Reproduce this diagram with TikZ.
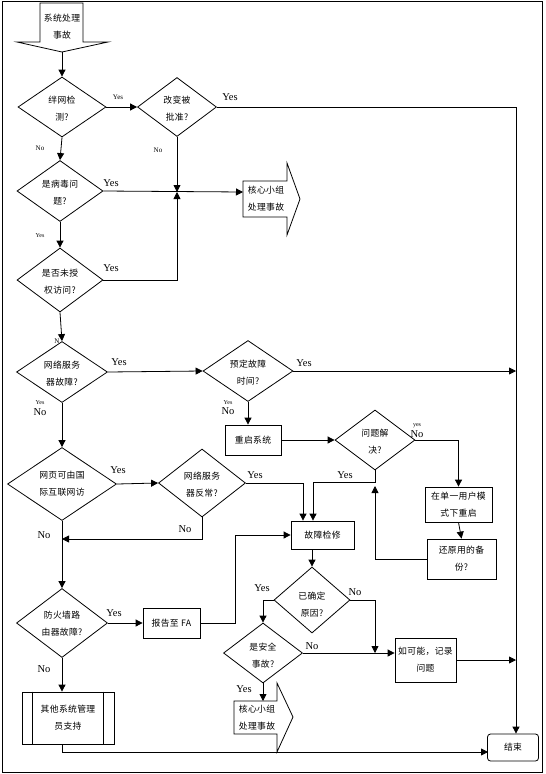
\documentclass[tikz,border=0pt]{standalone}
\usepackage{fontspec}
\setmainfont{Liberation Serif}
\newfontfamily\cjk[LetterSpace=4]{Noto Sans CJK SC}
\usetikzlibrary{shapes.geometric,arrows.meta}
\begin{document}
\begin{tikzpicture}[x=1pt,y=-1pt,line width=0.8pt,
  arr/.style={-{Triangle[length=7pt,width=7pt]}},
  dia/.style={draw,diamond,inner sep=0pt,aspect=1},
  box/.style={draw,rectangle,inner sep=0pt,align=center,font=\cjk\fontsize{8.8}{17}\selectfont},
  txt/.style={font=\cjk\fontsize{8.8}{17}\selectfont,align=center,inner sep=0pt},
  lab/.style={font=\fontsize{10.5}{12}\selectfont,inner sep=0pt},
  tlab/.style={font=\fontsize{7}{8}\selectfont,inner sep=0pt},
  slab/.style={font=\fontsize{6}{7}\selectfont,inner sep=0pt}]
\useasboundingbox (0,0) rectangle (546,774);
\draw[line width=1pt] (2,1) rectangle (542,772);

% start block arrow
\draw (40,3) -- (83,3) -- (83,42) -- (108,42) -- (62,52) -- (17,42) -- (40,42) -- cycle;
\node[txt] (st) at (62,27) {系统处理\\事故};
\coordinate (sttip) at (62,52);

% core group block arrows
\draw (243,181) -- (287,181) -- (287,163) -- (300,199) -- (287,235) -- (287,217) -- (243,217) -- cycle;
\node[txt] (c1t) at (266,199) {核心小组\\处理事故};
\coordinate (c1in) at (243,192);
\draw (234,701) -- (277,701) -- (277,683) -- (293,717) -- (277,752) -- (277,734) -- (234,734) -- cycle;
\node[txt] (c2t) at (257,718) {核心小组\\处理事故};
\coordinate (c2in) at (263,701);

% diamonds
\node[dia,minimum width=88pt,minimum height=60pt] (d1) at (62,107) {};
\node[txt] (d1t) at (62,109) {绊网检\\测?};
\node[dia,minimum width=79pt,minimum height=59pt] (d2) at (177,107) {};
\node[txt] (d2t) at (177,109) {改变被\\批准?};
\node[dia,minimum width=86pt,minimum height=61pt] (d3) at (60,191) {};
\node[txt] (d3t) at (60,193) {是病毒问\\题?};
\node[dia,minimum width=86pt,minimum height=64pt] (d4) at (60,280) {};
\node[txt] (d4t) at (60,282) {是否未授\\权访问?};
\node[dia,minimum width=91pt,minimum height=61pt] (d5) at (62,372) {};
\node[txt] (d5t) at (62,374) {网络服务\\器故障?};
\node[dia,minimum width=90pt,minimum height=61pt] (d6) at (248,371) {};
\node[txt] (d6t) at (248,373) {预定故障\\时间?};
\node[dia,minimum width=80pt,minimum height=60pt] (d7) at (375,440) {};
\node[txt] (d7t) at (375,442) {问题解\\决?};
\node[dia,minimum width=109pt,minimum height=73pt] (d8) at (62,484) {};
\node[txt] (d8t) at (62,484) {网页可由国\\际互联网访};
\node[dia,minimum width=87pt,minimum height=68pt] (d9) at (202,483) {};
\node[txt] (d9t) at (202,485) {网络服务\\器反常?};
\node[dia,minimum width=76pt,minimum height=66pt] (d10) at (312,600) {};
\node[txt] (d10t) at (312,605) {已确定\\原因?};
\node[dia,minimum width=79pt,minimum height=60pt] (d11) at (263,653) {};
\node[txt] (d11t) at (263,656) {是安全\\事故?};
\node[dia,minimum width=91pt,minimum height=69pt] (d12) at (62,623) {};
\node[txt] (d12t) at (62,624) {防火墙路\\由器故障?};

% boxes
\node[box,minimum width=56pt,minimum height=30pt] (r1) at (253,440) {重启系统};
\node[box,minimum width=67pt,minimum height=35pt] (r2) at (458.5,504.5) {在单一用户模\\式下重启};
\node[box,minimum width=69pt,minimum height=40pt] (r3) at (461.5,559) {还原用的备\\份?};
\node[box,minimum width=63pt,minimum height=28pt] (r4) at (322.5,535) {故障检修};
\node[box,minimum width=61pt,minimum height=44pt] (r5) at (425.5,660) {如可能，记录\\问题};
\node[box,minimum width=57pt,minimum height=30pt] (r6) at (171.5,623) {报告至 FA};
\node[box,minimum width=92pt,minimum height=52pt] (r7) at (68,718) {其他系统管理\\员支持};
\draw ([xshift=11pt]r7.north west) -- ([xshift=11pt]r7.south west);
\draw ([xshift=-11pt]r7.north east) -- ([xshift=-11pt]r7.south east);
\node[box,rounded corners=3pt,minimum width=51pt,minimum height=27pt] (fin) at (513,747.5) {结束};

% helper coordinates
\coordinate (vtop) at (516,107);
\coordinate (j7) at (375,482);
\coordinate (j9) at (62,539);
\coordinate (j10) at (375,653);
\coordinate (endin) at (488,752);

% connectors
\draw[arr] (sttip) -- (d1.north);
\draw[arr] (d1.east) -- (d2.west);
\draw[arr] (d2.east) -- (vtop) -- (vtop |- fin.north);
\draw[arr] (d1.south) -- (d3.north);
\draw[arr] (d2.south) -- (d2.south |- c1in);
\draw[arr] (d3.east) -- (c1in);
\draw[arr] (d3.south) -- (d4.north);
\draw[arr] (d4.east) -| (d2.south |- c1in);
\draw[arr] (d4.south) -- (d5.north);
\draw[arr] (d5.east) -- (d6.west);
\draw[arr] (d6.east) -- (d6.east -| vtop);
\draw[arr] (d5.south) -- (d8.north);
\draw[arr] (d6.south) -- (d6.south |- r1.north);
\draw[arr] (r1.east) -- (d7.west);
\draw[arr] (d7.east) -| (r2.north);
\draw[arr] (r2.south) -- (r3.north);
\draw[arr] (r3.west) -| ([yshift=-4pt]j7);
\draw[arr] (d7.south) -- (j7) -| ([xshift=-9.5pt]r4.north);
\draw[arr] (d8.east) -- (d9.west);
\draw[arr] (d9.east) -| ([xshift=-19.5pt]r4.north);
\draw[arr] (d9.south) |- (j9);
\draw[arr] (d8.south) -- (d12.north);
\draw[arr] (d12.east) -- (r6.west);
\draw[arr] (r6.east) -- ++(35,0) |- (r4.west);
\draw[arr] (r4.south -| d10.north) -- (d10.north);
\draw[arr] (d10.west) -| (d11.north);
\draw[arr] (d10.east) -| (j10);
\draw[arr] (d11.east) -- (d11.east -| r5.west);
\draw[arr] (r5.east) -- (r5.east -| vtop);
\draw[arr] (d11.south) -- (c2in);
\draw[arr] (d12.south) -- (d12.south |- r7.north);
\draw[arr] (r7.south -| d12.south) |- (endin);

% labels
\node[tlab] (l1) at (118,97) {Yes};
\node[lab] (l2) at (230,97) {Yes};
\node[tlab] (l3) at (40,148) {No};
\node[tlab] (l4) at (158,150) {No};
\node[lab] (l5) at (111,183) {Yes};
\node[slab] (l6) at (40,236) {Yes};
\node[lab] (l7) at (111,268) {Yes};
\node[tlab] (l8) at (57,341) {N};
\node[lab] (l9) at (119,362) {Yes};
\node[slab] (l10) at (40,403) {Yes};
\node[lab] (l11) at (40,412) {No};
\node[lab] (l12) at (304,363) {Yes};
\node[slab] (l13) at (228,403) {Yes};
\node[lab] (l14) at (228,411) {No};
\node[slab] (l15) at (417,426) {yes};
\node[lab] (l16) at (417,434) {No};
\node[lab] (l17) at (118,470) {Yes};
\node[lab] (l18) at (255,475) {Yes};
\node[lab] (l19) at (185,529) {No};
\node[lab] (l20) at (44,535) {No};
\node[lab] (l21) at (345,475) {Yes};
\node[lab] (l22) at (262,588) {Yes};
\node[lab] (l23) at (355,592) {No};
\node[lab] (l24) at (312,646) {No};
\node[lab] (l25) at (244,689) {Yes};
\node[lab] (l26) at (114,613) {Yes};
\node[lab] (l27) at (44,669) {No};
\end{tikzpicture}
\end{document}
